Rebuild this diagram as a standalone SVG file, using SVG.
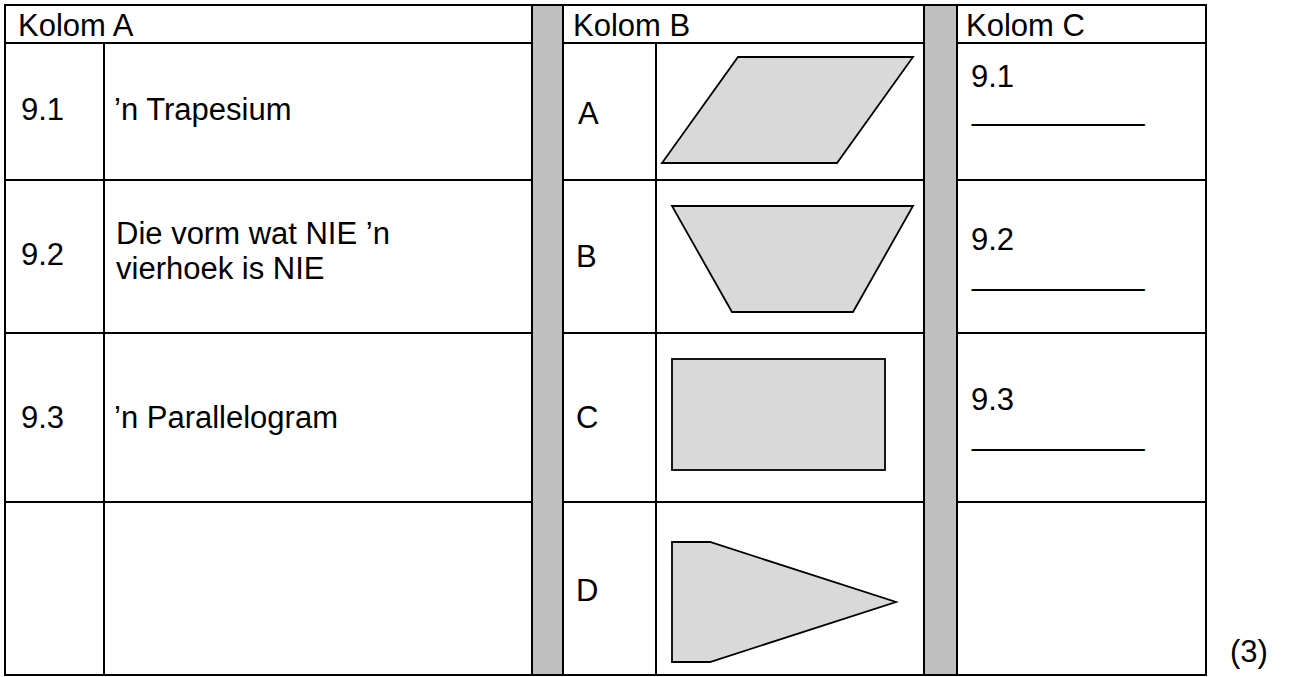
<svg xmlns="http://www.w3.org/2000/svg" width="1289" height="677" viewBox="0 0 1289 677">
<style>
text{font-family:"Liberation Sans",Arial,sans-serif;font-size:31px;fill:#000}
.ln{stroke:#000;stroke-width:2;fill:none}
.bar{fill:#bfbfbf;stroke:#000;stroke-width:2}
.shp{fill:#d9d9d9;stroke:#000;stroke-width:1.8;stroke-linejoin:miter}
</style>
<rect width="1289" height="677" fill="#fff"/>
<g id="grid">
<rect class="bar" x="532" y="5" width="31" height="670"/>
<rect class="bar" x="924" y="5" width="33" height="670"/>
<rect class="ln" x="5" y="5" width="1201" height="670"/>
<path class="ln" d="M5 43H532M563 43H924M957 43H1206M5 180H532M563 180H924M957 180H1206M5 333H532M563 333H924M957 333H1206M5 502H532M563 502H924M957 502H1206M104 43V675M656 43V675"/>
</g>
<g id="colA">
<text x="18" y="36">Kolom A</text>
<text x="21" y="120">9.1</text>
<text x="114" y="120">’n Trapesium</text>
<text x="21" y="265">9.2</text>
<text x="116" y="244">Die vorm wat NIE ’n</text>
<text x="116" y="279">vierhoek is NIE</text>
<text x="21" y="428">9.3</text>
<text x="114" y="428">’n Parallelogram</text>
</g>
<g id="colB">
<text x="573" y="36">Kolom B</text>
<text x="578" y="124">A</text>
<text x="576" y="267">B</text>
<text x="576" y="428">C</text>
<text x="576" y="601">D</text>
<polygon class="shp" points="738,57 913,57 837,163 662,163"/>
<polygon class="shp" points="672,206 913,206 853,312 732,312"/>
<rect class="shp" x="672" y="359" width="213" height="111"/>
<polygon class="shp" points="672,542 710,542 896,602 710,662 672,662"/>
</g>
<g id="colC">
<text x="966" y="36">Kolom C</text>
<text x="971" y="87">9.1</text>
<text x="972" y="120">__________</text>
<text x="971" y="250">9.2</text>
<text x="972" y="285">__________</text>
<text x="971" y="410">9.3</text>
<text x="972" y="445">__________</text>
</g>
<text id="marks" x="1230" y="662">(3)</text>
</svg>
